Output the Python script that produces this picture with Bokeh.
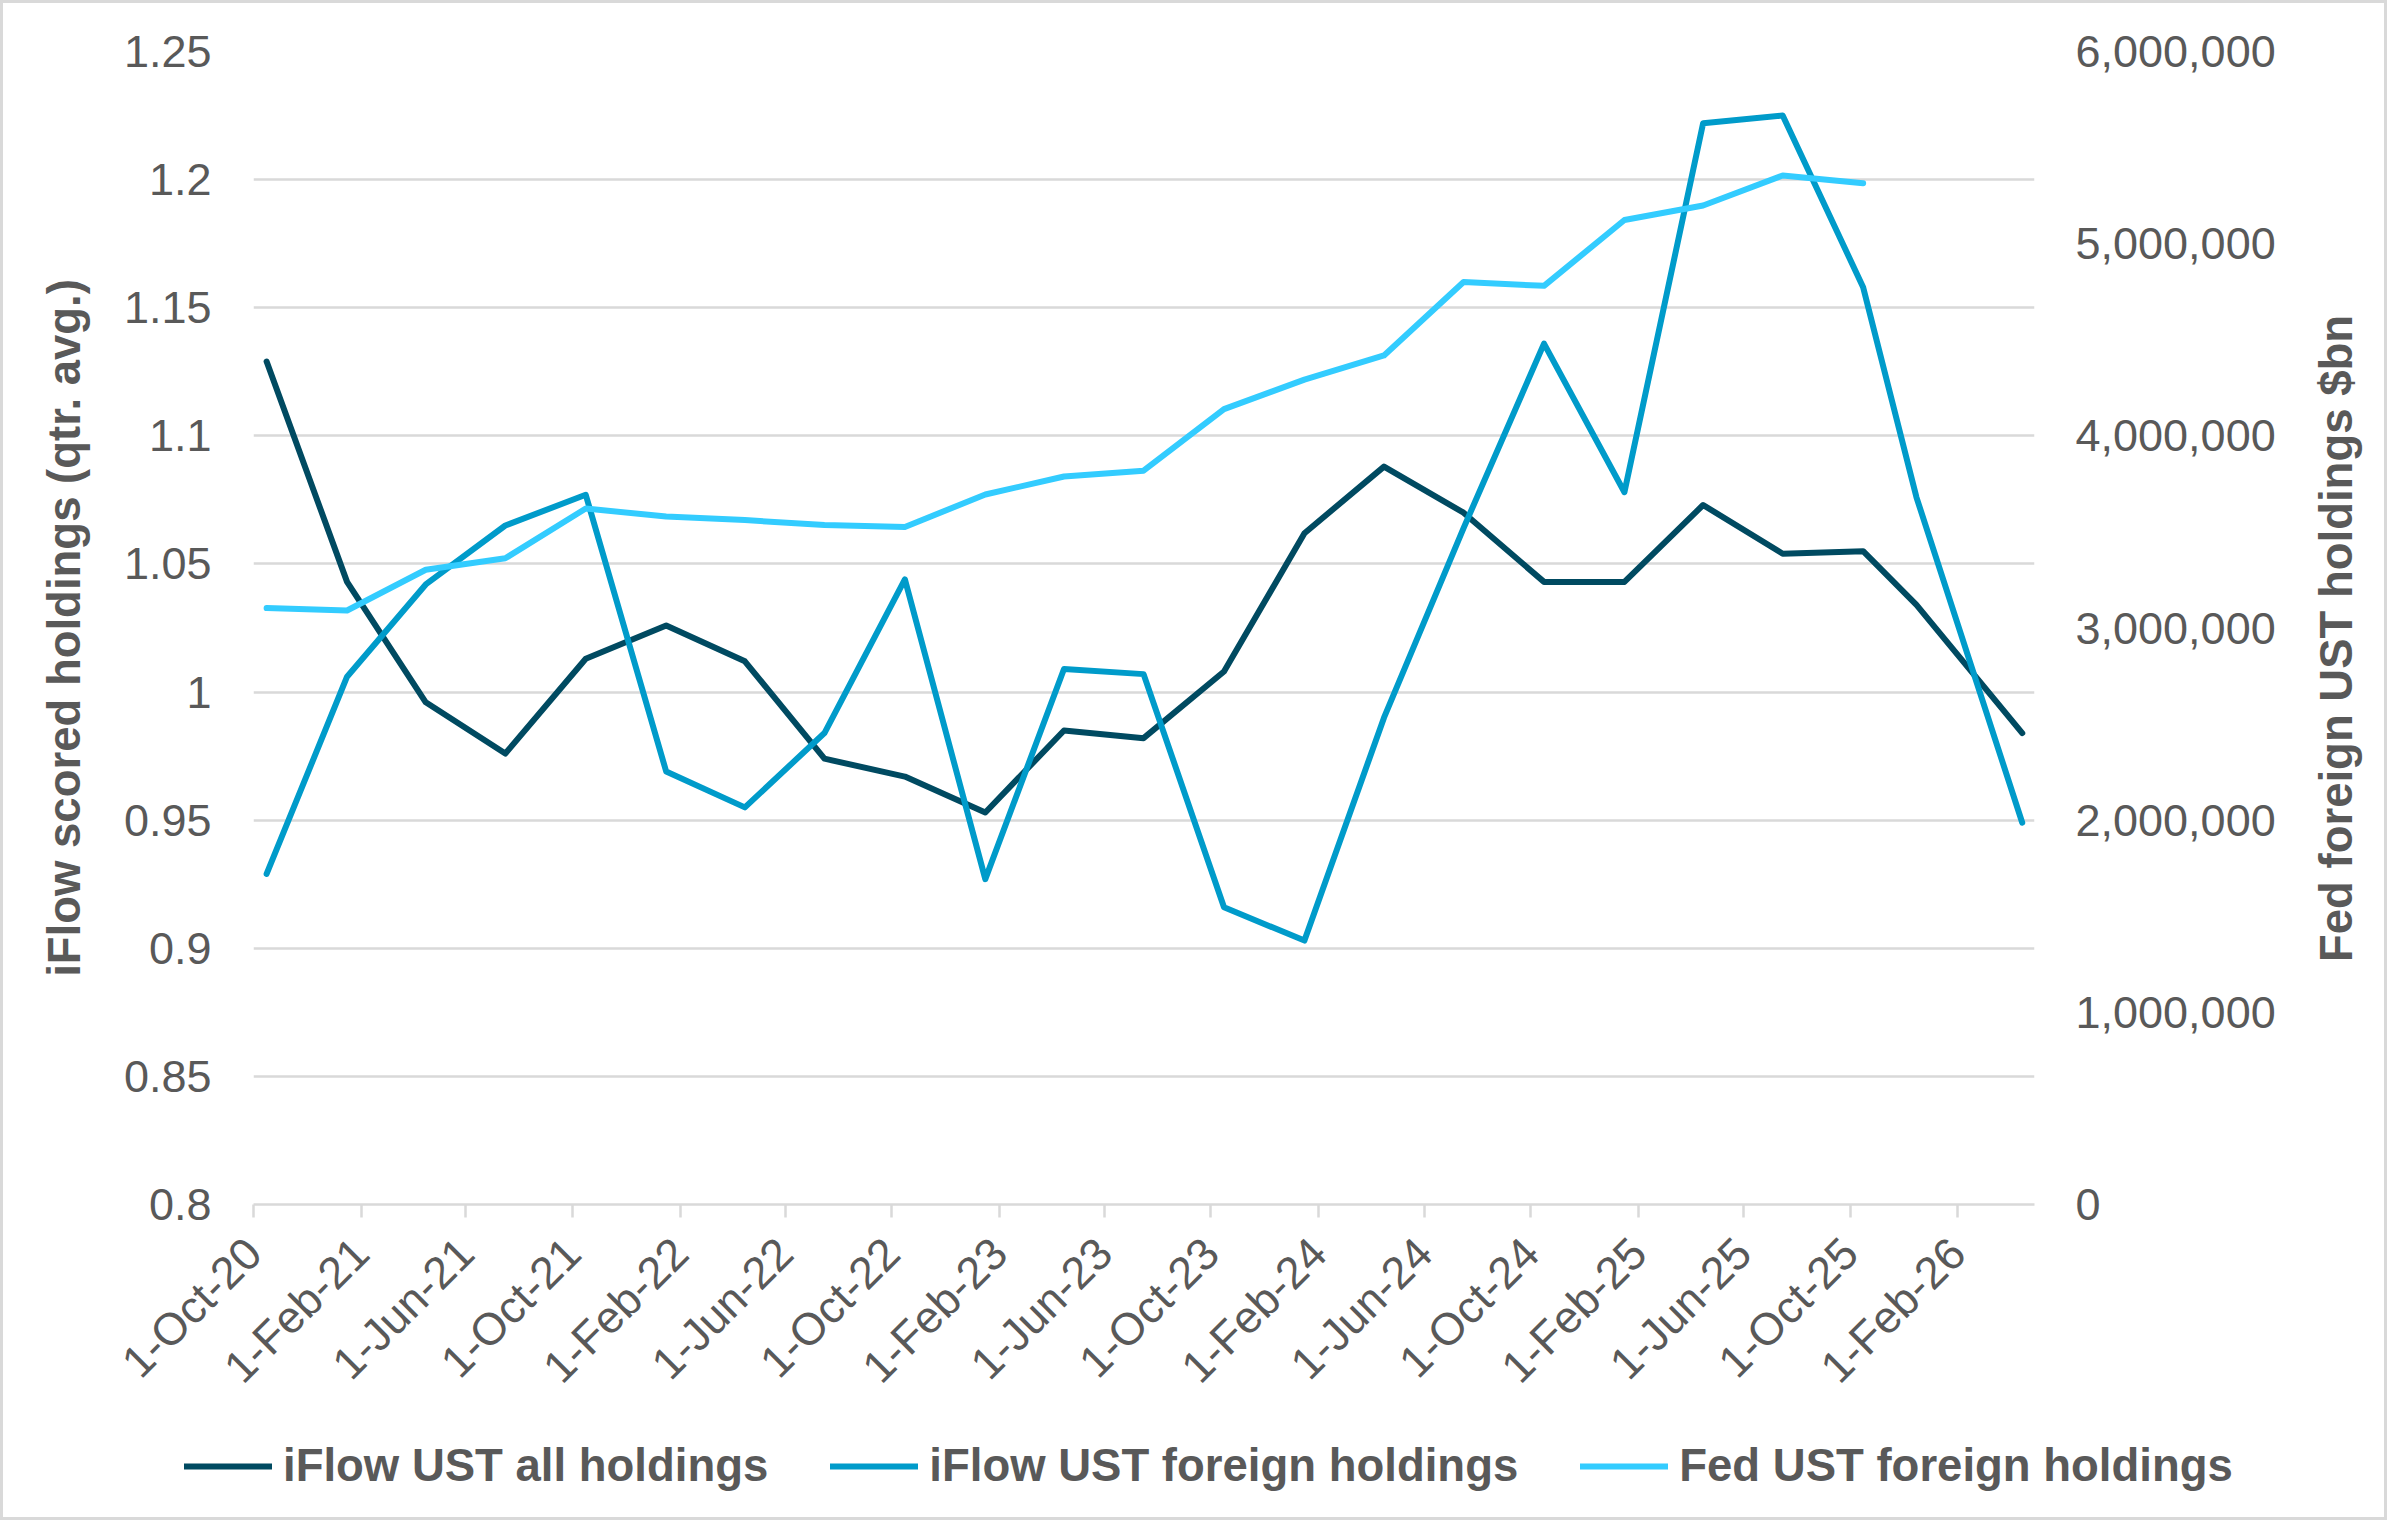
import math
from datetime import datetime

from bokeh.plotting import figure
from bokeh.layouts import row, column
from bokeh.models import (Range1d, LinearAxis, FixedTicker, NumeralTickFormatter,
                          Legend, LegendItem, ColumnDataSource)
from bokeh.core.properties import value
from bokeh.embed import file_html
from bokeh.resources import INLINE

# ---------------- data ----------------
point_dates = ["16-Oct-20", "16-Jan-21", "16-Apr-21", "16-Jul-21", "16-Oct-21",
               "16-Jan-22", "16-Apr-22", "16-Jul-22", "16-Oct-22", "16-Jan-23",
               "16-Apr-23", "16-Jul-23", "16-Oct-23", "16-Jan-24", "16-Apr-24",
               "16-Jul-24", "16-Oct-24", "16-Jan-25", "16-Apr-25", "16-Jul-25",
               "16-Oct-25", "16-Dec-25", "16-Apr-26"]

iflow_all = [1.129, 1.043, 0.996, 0.976, 1.013, 1.026, 1.012, 0.974, 0.967, 0.953,
             0.985, 0.982, 1.008, 1.062, 1.088, 1.070, 1.043, 1.043, 1.073, 1.054,
             1.055, 1.034, 0.984]

iflow_foreign = [0.929, 1.006, 1.042, 1.065, 1.077, 0.969, 0.955, 0.984, 1.044, 0.927,
                 1.009, 1.007, 0.916, 0.903, 0.990, 1.064, 1.136, 1.078, 1.222, 1.225,
                 1.158, 1.076, 0.949]

fed_foreign = [3103700, 3091200, 3303000, 3362800, 3621500, 3579800, 3561600, 3535600,
               3525700, 3694800, 3788500, 3818700, 4139300, 4292800, 4418200, 4800700,
               4780400, 5123300, 5198800, 5354400, 5314300]

tick_dates = ["1-Oct-20", "1-Feb-21", "1-Jun-21", "1-Oct-21", "1-Feb-22", "1-Jun-22",
              "1-Oct-22", "1-Feb-23", "1-Jun-23", "1-Oct-23", "1-Feb-24", "1-Jun-24",
              "1-Oct-24", "1-Feb-25", "1-Jun-25", "1-Oct-25", "1-Feb-26"]
axis_start_date = "1-Oct-20"
axis_end_date = "30-Apr-26"

left_ticks = [0.8, 0.85, 0.9, 0.95, 1.0, 1.05, 1.1, 1.15, 1.2, 1.25]
left_tick_labels = ["0.8", "0.85", "0.9", "0.95", "1", "1.05", "1.1", "1.15", "1.2", "1.25"]
right_ticks = [0, 1000000, 2000000, 3000000, 4000000, 5000000, 6000000]

series_names = ["iFlow UST all holdings", "iFlow UST foreign holdings", "Fed UST foreign holdings"]
left_title = "iFlow scored holdings (qtr. avg.)"
right_title = "Fed foreign UST holdings $bn"

# ---------------- helpers ----------------
base = datetime.strptime(axis_start_date, "%d-%b-%y")


def to_day(s):
    return (datetime.strptime(s, "%d-%b-%y") - base).days


point_days = [to_day(d) for d in point_dates]
tick_days = [to_day(d) for d in tick_dates]
x_end = to_day(axis_end_date)

DARK = "#004A61"
MID = "#009BCA"
LIGHT = "#33CCFF"
GRID = "#D9D9D9"
TXT = "#595959"
FONT = "Liberation Sans"
LW = 6

FRAME_W, FRAME_H = 1781, 1153
BL, BT = 250, 48
TOTAL_W, TOTAL_H = 2381, 1514
W, H1 = 2290, 1430          # main chart
TW = TOTAL_W - W            # strip holding the right-hand axis title
H2 = TOTAL_H - H1           # strip holding the legend


def bare(fig):
    fig.outline_line_color = None
    fig.background_fill_color = "white"
    fig.border_fill_color = "white"


p = figure(width=W, height=H1, frame_width=FRAME_W, frame_height=FRAME_H,
           min_border_left=BL, min_border_right=W - BL - FRAME_W,
           min_border_top=BT, min_border_bottom=H1 - BT - FRAME_H,
           x_range=Range1d(0, x_end), y_range=Range1d(0.8, 1.25),
           output_backend="svg", toolbar_location=None)
bare(p)
p.xgrid.grid_line_color = None
p.ygrid.grid_line_color = GRID
p.ygrid.grid_line_width = 2.5

p.extra_y_ranges = {"fed": Range1d(0, 6000000)}

# left axis
ya = p.yaxis[0]
ya.ticker = FixedTicker(ticks=left_ticks)
ya.major_label_overrides = {t: l for t, l in zip(left_ticks, left_tick_labels)}
ya.axis_line_color = None
ya.major_tick_line_color = None
ya.minor_tick_line_color = None
ya.major_tick_out = 0
ya.major_tick_in = 0
ya.major_label_text_font = FONT
ya.major_label_text_font_size = "45px"
ya.major_label_text_color = TXT
ya.major_label_standoff = 42
ya.axis_label = left_title
ya.axis_label_text_font = FONT
ya.axis_label_text_font_style = "bold"
ya.axis_label_text_font_size = "45.5px"
ya.axis_label_text_color = TXT
ya.axis_label_standoff = 31

# right axis
ra = LinearAxis(y_range_name="fed", ticker=FixedTicker(ticks=right_ticks),
                formatter=NumeralTickFormatter(format="0,0"))
ra.axis_line_color = None
ra.major_tick_line_color = None
ra.minor_tick_line_color = None
ra.major_tick_out = 0
ra.major_tick_in = 0
ra.major_label_text_font = FONT
ra.major_label_text_font_size = "45px"
ra.major_label_text_color = TXT
ra.major_label_standoff = 41
p.add_layout(ra, "right")

# bottom axis
xa = p.xaxis[0]
xa.ticker = FixedTicker(ticks=tick_days)
xa.major_label_overrides = {d: s for d, s in zip(tick_days, tick_dates)}
xa.major_label_orientation = math.pi / 4
xa.axis_line_color = GRID
xa.axis_line_width = 2.5
xa.major_tick_line_color = GRID
xa.major_tick_line_width = 2.5
xa.major_tick_out = 13
xa.major_tick_in = 0
xa.minor_tick_line_color = None
xa.major_label_text_font = FONT
xa.major_label_text_font_size = "45px"
xa.major_label_text_color = TXT
xa.major_label_standoff = 28

# series
src = ColumnDataSource(dict(x=point_days, a=iflow_all, f=iflow_foreign))
src_fed = ColumnDataSource(dict(x=point_days[:len(fed_foreign)], v=fed_foreign))
p.line("x", "a", source=src, line_color=DARK, line_width=LW,
       line_cap="round", line_join="round")
p.line("x", "f", source=src, line_color=MID, line_width=LW,
       line_cap="round", line_join="round")
p.line("x", "v", source=src_fed, y_range_name="fed", line_color=LIGHT, line_width=LW,
       line_cap="round", line_join="round")

# right-hand axis title strip (reads bottom-to-top, centred on the plot area)
t = figure(width=TW, height=H1, frame_width=TW, frame_height=H1,
           min_border_left=0, min_border_right=0, min_border_top=0, min_border_bottom=0,
           x_range=Range1d(0, TW), y_range=Range1d(0, H1),
           output_backend="svg", toolbar_location=None,
           x_axis_location=None, y_axis_location=None)
bare(t)
t.grid.grid_line_color = None
t.text(x=[43], y=[H1 - 587], text=[right_title], angle=math.pi / 2,
       text_align="center", text_baseline="middle",
       text_font=value(FONT), text_font_style="bold",
       text_font_size="45.5px", text_color=TXT)

# legend strip: the same series, drawn outside this strip's visible range,
# serve as the legend's swatches
lf = figure(width=TOTAL_W, height=H2, frame_width=TOTAL_W, frame_height=H2,
            min_border_left=0, min_border_right=0, min_border_top=0, min_border_bottom=0,
            x_range=Range1d(-2, -1), y_range=Range1d(-2, -1),
            output_backend="svg", toolbar_location=None,
            x_axis_location=None, y_axis_location=None)
bare(lf)
lf.grid.grid_line_color = None
l1 = lf.line("x", "a", source=src, line_color=DARK, line_width=LW, line_cap="round")
l2 = lf.line("x", "f", source=src, line_color=MID, line_width=LW, line_cap="round")
l3 = lf.line("x", "v", source=src_fed, line_color=LIGHT, line_width=LW, line_cap="round")
legend = Legend(items=[LegendItem(label=n, renderers=[r])
                       for n, r in zip(series_names, [l1, l2, l3])],
                location=(181, H2 - 59), orientation="horizontal",
                padding=0, margin=0, spacing=62, glyph_width=88, glyph_height=50,
                label_height=50, label_standoff=11,
                label_text_font=FONT, label_text_font_style="bold",
                label_text_font_size="45.5px", label_text_color=TXT,
                border_line_color=None, background_fill_alpha=0)
lf.add_layout(legend)

layout = column(row(p, t, spacing=0), lf, spacing=0,
                styles={"border": "3px solid #D9D9D9"})

open("out.html", "w").write(file_html(layout, INLINE))
